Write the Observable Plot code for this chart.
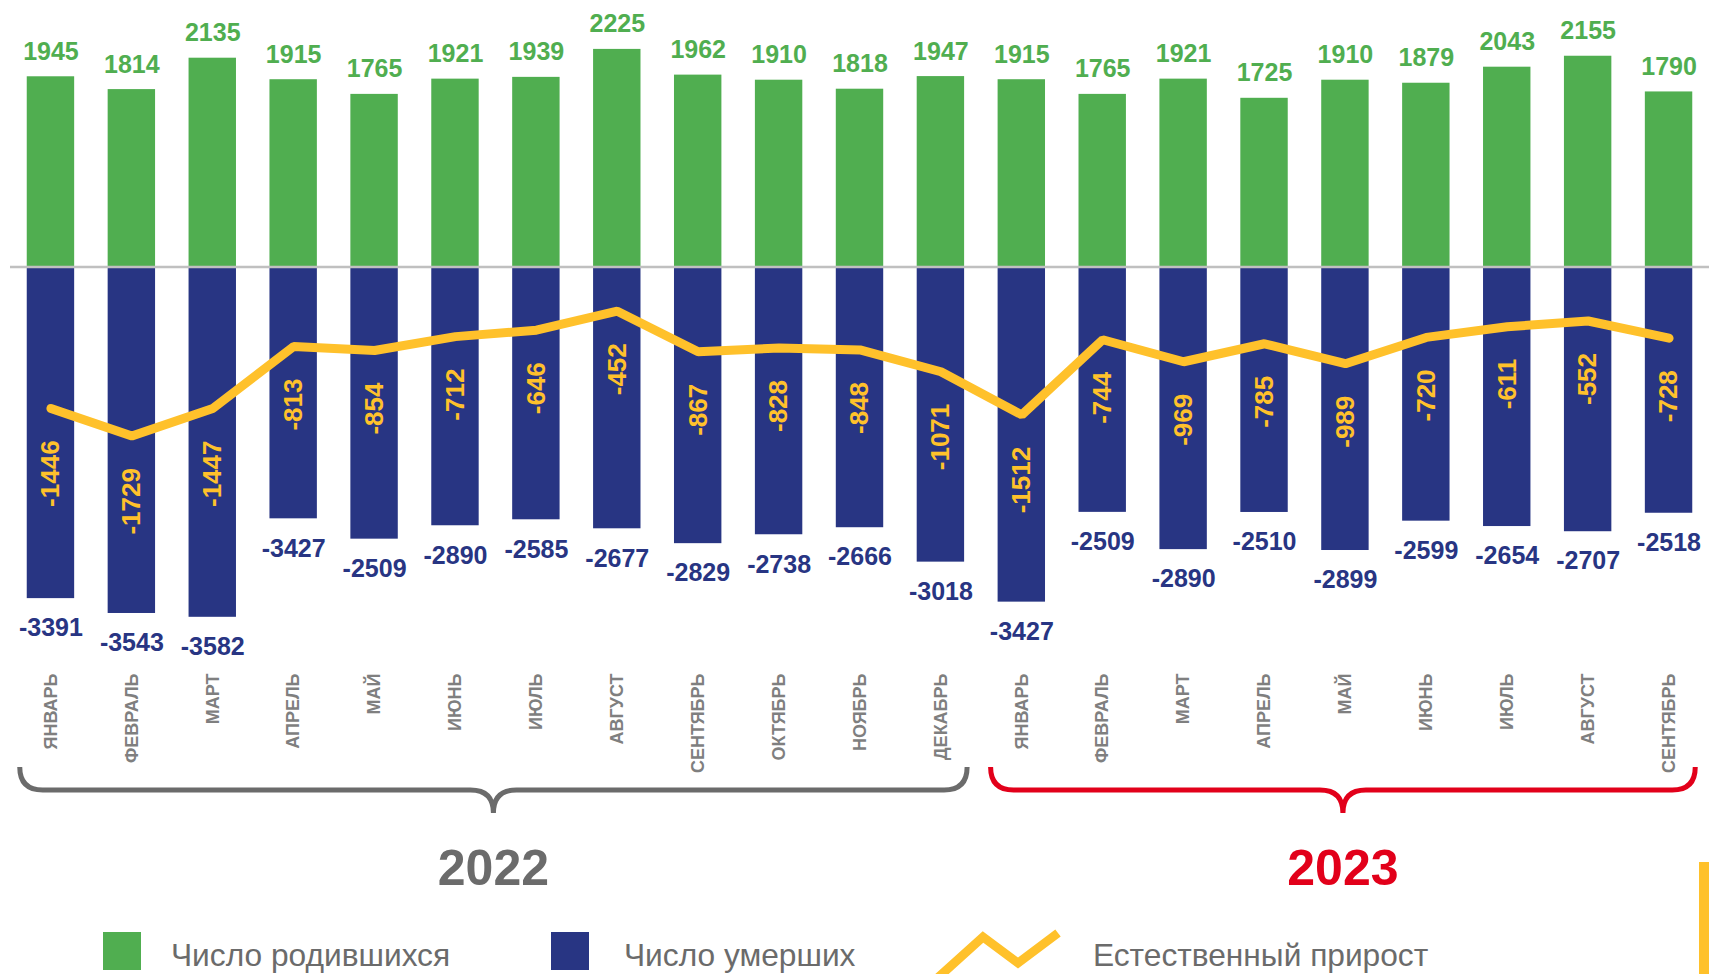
<!DOCTYPE html>
<html>
<head>
<meta charset="utf-8">
<script src="https://cdn.jsdelivr.net/npm/d3@7"></script>
<script src="https://cdn.jsdelivr.net/npm/@observablehq/plot@0.6"></script>
<style>
  html, body { margin: 0; padding: 0; background: #fff; }
  body { width: 1709px; height: 974px; overflow: hidden; position: relative; font-family: "Liberation Sans", Arial, sans-serif; }
  #legend { position: relative; width: 1709px; height: 69px; }
  #legend .sq { position: absolute; top: 27px; width: 38px; height: 38px; }
  #legend .lt { position: absolute; top: 35px; font-size: 31.7px; line-height: 31px; color: #6b6b6b; white-space: nowrap; }
  #accent { position: absolute; left: 1699px; top: 862px; width: 10px; height: 112px; background: #ffc12b; }
</style>
</head>
<body>
<div id="chart"></div>
<div id="legend">
  <div class="sq" style="left:103px;background:#50ae50"></div>
  <div class="lt" style="left:171px">Число родившихся</div>
  <div class="sq" style="left:551px;background:#283583"></div>
  <div class="lt" style="left:624px">Число умерших</div>
  <svg style="position:absolute;left:930px;top:20px" width="140" height="49">
    <polyline points="2,58 53,12 88,38 128,8" fill="none" stroke="#ffc12b" stroke-width="9" stroke-linejoin="miter"/>
  </svg>
  <div class="lt" style="left:1093px">Естественный прирост</div>
</div>
<div id="accent"></div>
<script>
// Months (x categories)
const months = ["ЯНВАРЬ","ФЕВРАЛЬ","МАРТ","АПРЕЛЬ","МАЙ","ИЮНЬ","ИЮЛЬ","АВГУСТ","СЕНТЯБРЬ","ОКТЯБРЬ","НОЯБРЬ","ДЕКАБРЬ",
                "ЯНВАРЬ","ФЕВРАЛЬ","МАРТ","АПРЕЛЬ","МАЙ","ИЮНЬ","ИЮЛЬ","АВГУСТ","СЕНТЯБРЬ"];
const years = ["2022","2022","2022","2022","2022","2022","2022","2022","2022","2022","2022","2022",
               "2023","2023","2023","2023","2023","2023","2023","2023","2023"];
// Число родившихся
const births = [1945,1814,2135,1915,1765,1921,1939,2225,1962,1910,1818,1947,
                1915,1765,1921,1725,1910,1879,2043,2155,1790];
// Число умерших: bar lengths as drawn in the picture (Apr–Jun 2022 bars differ from their printed labels)
const deathsBar = [-3391,-3543,-3582,-2575,-2783,-2646,-2585,-2677,-2829,-2738,-2666,-3018,
                   -3427,-2509,-2890,-2510,-2899,-2599,-2654,-2707,-2518];
// Число умерших: printed labels
const deathsLabel = [-3391,-3543,-3582,-3427,-2509,-2890,-2585,-2677,-2829,-2738,-2666,-3018,
                     -3427,-2509,-2890,-2510,-2899,-2599,-2654,-2707,-2518];
// Естественный прирост
const growth = [-1446,-1729,-1447,-813,-854,-712,-646,-452,-867,-828,-848,-1071,
                -1512,-744,-969,-785,-989,-720,-611,-552,-728];

const rows = months.map((m, i) => ({
  i, month: m, year: years[i],
  births: births[i], deathsBar: deathsBar[i], deathsLabel: deathsLabel[i], growth: growth[i]
}));

const GREEN = "#50ae50", NAVY = "#283583", YELLOW = "#ffc12b";
const yearColor = {"2022": "#6b6b6b", "2023": "#e2001a"};

const chart = Plot.plot({
  width: 1709,
  height: 905,
  marginLeft: 10,
  marginRight: 0,
  marginTop: 0,
  marginBottom: 235,
  style: {fontFamily: "'Liberation Sans', Arial, sans-serif", background: "transparent", overflow: "visible"},
  x: {type: "band", domain: d3.range(months.length), paddingInner: 0.414, paddingOuter: 0.207, round: false, axis: null},
  y: {domain: [-4126, 2725], axis: null},
  marks: [
    Plot.barY(rows, {x: "i", y: "births", fill: GREEN}),
    Plot.barY(rows, {x: "i", y: "deathsBar", fill: NAVY}),
    Plot.ruleY([0], {stroke: "#c0c0c0", strokeWidth: 2.5}),
    Plot.line(rows, {x: "i", y: "growth", stroke: YELLOW, strokeWidth: 9, strokeLinecap: "round", strokeLinejoin: "miter"}),
    Plot.text(rows, {x: "i", y: "births", text: d => String(d.births), lineAnchor: "bottom", dy: -17,
      fill: GREEN, fontSize: 25, fontWeight: "bold"}),
    Plot.text(rows, {x: "i", y: "deathsBar", text: d => String(d.deathsLabel), lineAnchor: "top", dy: 20,
      fill: NAVY, fontSize: 25, fontWeight: "bold"}),
    Plot.text(rows, {x: "i", y: "growth", text: d => String(d.growth), rotate: -90, textAnchor: "end",
      lineAnchor: "middle", dy: 32, fill: YELLOW, fontSize: 26, fontWeight: "bold"}),
    Plot.text(rows, {x: "i", text: "month", frameAnchor: "bottom", rotate: -90, textAnchor: "end",
      lineAnchor: "middle", dy: 3, fill: "#7f7f7f", fontSize: 18, fontWeight: "bold"})
  ]
});

document.getElementById("chart").appendChild(chart);

// Year braces and labels, positioned from the x scale
const xs = chart.scale("x");
const bw = xs.bandwidth;
const svg = d3.select(chart);
const y0 = 767, y1 = 790, y2 = 813, r = 23;
for (const [yr, items] of d3.groups(rows, d => d.year)) {
  const first = d3.min(items, d => d.i), last = d3.max(items, d => d.i);
  const x0 = xs.apply(first) - 7;
  const x1 = xs.apply(last) + bw + 3;
  const cx = (x0 + x1) / 2;
  const path = `M${x0},${y0} Q${x0},${y1} ${x0 + r},${y1} L${cx - r},${y1} Q${cx},${y1} ${cx},${y2} ` +
               `Q${cx},${y1} ${cx + r},${y1} L${x1 - r},${y1} Q${x1},${y1} ${x1},${y0}`;
  svg.append("path").attr("d", path).attr("fill", "none")
    .attr("stroke", yearColor[yr]).attr("stroke-width", 5);
  svg.append("text").attr("x", cx).attr("y", 885).attr("text-anchor", "middle")
    .attr("font-size", 50).attr("font-weight", "bold").attr("fill", yearColor[yr])
    .text(yr);
}
</script>
</body>
</html>
